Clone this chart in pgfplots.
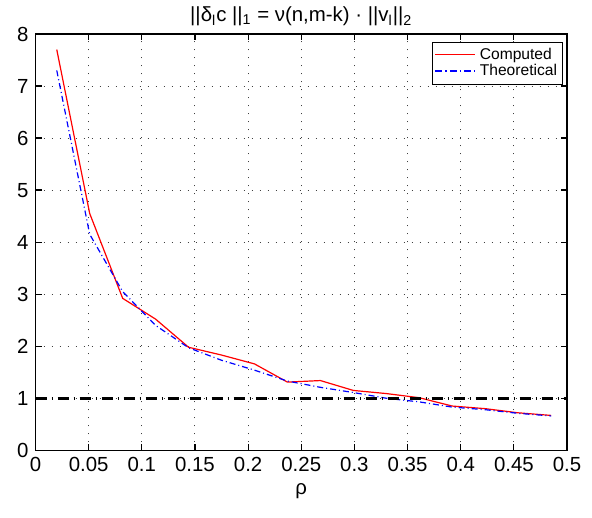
\documentclass[border=0pt]{standalone}
\usepackage{fontspec}
\setmainfont{Liberation Sans}
\usepackage{pgfplots}
\pgfplotsset{compat=1.18}
\pgfplotsset{
  redleg/.style={legend image code/.code={%
    \draw[red, line width=0.5pt, solid] (0cm,0cm) -- (0.7cm,0cm);}},
  blueleg/.style={legend image code/.code={%
    \draw[blue, line width=0.8pt, dash pattern=on 3.5pt off 1.5pt on 0.8pt off 1.5pt] (0cm,0cm) -- (0.7cm,0cm);}},
}
\begin{document}
\begin{tikzpicture}
  \begin{axis}[
      name=ax,
      scale only axis,
      width=265.75pt, height=208.15pt,
      xmin=0, xmax=0.5, ymin=0, ymax=8,
      xtick={0,0.05,...,0.5},
      ytick={0,1,...,8},
      xticklabels={0,0.05,0.1,0.15,0.2,0.25,0.3,0.35,0.4,0.45,0.5},
      tick align=inside,
      major tick length=3pt,
      xtick pos=both, ytick pos=both,
      axis line style={black, line width=0.7pt},
      tick style={black, line width=0.6pt},
      grid=major,
      grid style={black!75, line width=0.5pt, dash pattern=on 0.5pt off 3.5pt},
      font=\fontsize{10.2}{12}\selectfont,
      /pgf/number format/assume math mode=true,
      xlabel={ρ},
      every axis x label/.style={at={(axis description cs:0.5,0)}, anchor=base, yshift=-22pt},
      title={||δ\textsubscript{l}c ||\textsubscript{1} = ν(n,m-k) · ||v\textsubscript{l}||\textsubscript{2}},
      every axis title/.style={at={(axis description cs:0.5,1)}, anchor=base, yshift=6pt},
      legend style={at={(axis description cs:1,1)}, xshift=-2pt, yshift=-3.9pt,
                    anchor=north east, font=\fontsize{7.8}{9}\selectfont,
                    inner sep=0.8pt, row sep=-3pt,
                    cells={anchor=west}},
      legend cell align=left,
    ]
    \addplot[red, line width=0.6pt, redleg] coordinates {
      (0.020,7.70) (0.051,4.55) (0.082,2.92) (0.113,2.52) (0.144,1.98)
      (0.175,1.83) (0.206,1.66) (0.237,1.31) (0.268,1.34) (0.299,1.15)
      (0.330,1.09) (0.361,1.01) (0.392,0.85) (0.423,0.80) (0.454,0.72)
      (0.485,0.67)};
    \addlegendentry{Computed}
    \addplot[blue, line width=0.6pt, dash pattern=on 3pt off 1.5pt on 0.5pt off 1.5pt, blueleg] coordinates {
      (0.020,7.30) (0.051,4.15) (0.082,3.05) (0.113,2.40) (0.144,1.97)
      (0.175,1.73) (0.206,1.54) (0.237,1.33) (0.268,1.21) (0.299,1.11)
      (0.330,1.00) (0.361,0.93) (0.392,0.83) (0.423,0.78) (0.454,0.71)
      (0.485,0.66)};
    \addlegendentry{Theoretical}
    \addplot[black, line width=1.5pt, dash pattern=on 5.5pt off 2.5pt on 0.5pt off 2.5pt, forget plot]
      coordinates {(0,1) (0.5,1)};
  \end{axis}
  \path (ax.south west) ++(-17.75pt,-33.85pt);
  \path (ax.north east) ++(12.5pt,17pt);
\end{tikzpicture}
\end{document}
